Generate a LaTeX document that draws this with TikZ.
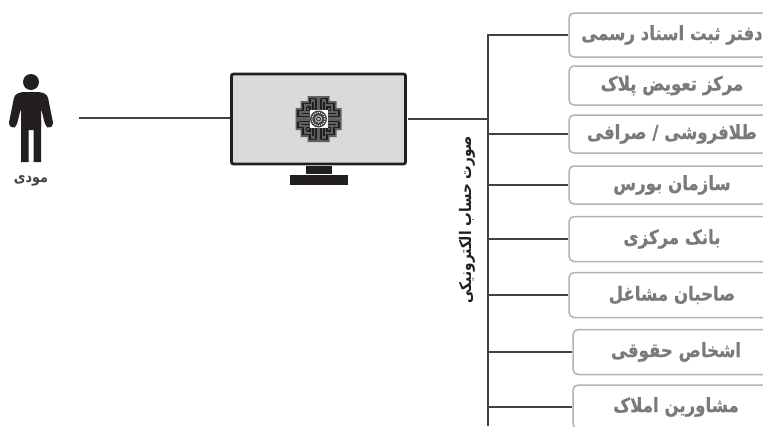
\documentclass[tikz,border=0pt]{standalone}
\usepackage{fontspec}
\newfontfamily\arabicfont[Script=Arabic,FakeStretch=0.85]{DejaVu Sans}
\newfontfamily\arabicheavy[Script=Arabic,FakeStretch=0.85,FakeBold=0.6]{DejaVu Sans Bold}
\TeXXeTstate=1
\definecolor{taxGray}{RGB}{120, 122, 125}
\definecolor{taxEdge}{RGB}{176, 178, 181}
\definecolor{taxScreen}{RGB}{217, 218, 220}
\definecolor{taxInk}{RGB}{35, 31, 32}
\usetikzlibrary{positioning}

\begin{document}
\begin{tikzpicture}[
    x=1pt, y=-1pt,
    officebox/.style={draw=taxEdge, line width=1.5pt, rounded corners=5pt, fill=white, minimum width=206pt,
                   align=center, inner sep=0pt, text=taxGray, font=\arabicheavy\fontsize{19.5}{22}\selectfont},
    wire/.style={line width=1.5pt, taxInk!85},
    standpart/.style={fill=taxInk, inner sep=0pt}
  ]
    \useasboundingbox (0,0) rectangle (763,426);
    \clip (0,0) rectangle (763,426);

    % offices on the right
    \node[officebox, minimum height=44pt] (daftar) at (672,35) {\beginR دفتر ثبت اسناد رسمی\endR};
    \node[officebox, minimum height=39pt] (markaz) at (672,85.5) {\beginR مرکز تعویض پلاک\endR};
    \node[officebox, minimum height=38pt] (tala) at (672,134) {\beginR طلافروشی / صرافی\endR};
    \node[officebox, minimum height=38pt] (bourse) at (672,185) {\beginR سازمان بورس\endR};
    \node[officebox, minimum height=45pt] (bank) at (672,239) {\beginR بانک مرکزی\endR};
    \node[officebox, minimum height=45pt] (mashaghel) at (672,295) {\beginR صاحبان مشاغل\endR};
    \node[officebox, minimum height=45pt] (hoghoghi) at (676,352) {\beginR اشخاص حقوقی\endR};
    \node[officebox, minimum height=44pt] (amlak) at (676,407) {\beginR مشاورین املاک\endR};

    % monitor
    \node[draw=taxInk, line width=2.8pt, rounded corners=2pt, fill=taxScreen, minimum width=174pt, minimum height=90pt,
          inner sep=0pt, outer sep=2pt] (monitor) at (318.5,119) {};
    \node[standpart, minimum width=26pt, minimum height=8pt, below=0pt of monitor] (neck) {};
    \node[standpart, minimum width=58pt, minimum height=10pt, below=0pt of neck] (base) {};

    % logo on the screen
    \begin{scope}[shift={(monitor.center)}]
      \fill[gray!75!black] (-11,-23) -- (11,-23) -- (11,-18) -- (18,-18) -- (18,-11) -- (23,-11) -- (23,11) -- (18,11)
        -- (18,18) -- (11,18) -- (11,23) -- (-11,23) -- (-11,18) -- (-18,18) -- (-18,11) -- (-23,11) -- (-23,-11)
        -- (-18,-11) -- (-18,-18) -- (-11,-18) -- cycle;
      \foreach \turn in {0,90,180,270} {
        \foreach \flip in {1,-1} {
          \draw[rotate=\turn, xscale=\flip, line width=1.5pt, taxInk]
            (-2.5,-20.5) -- (-8.5,-20.5) -- (-8.5,-15.5) -- (-15.5,-15.5) -- (-15.5,-9)
            (-2.5,-20) -- (-2.5,-8)
            (-5.5,-17) -- (-5.5,-8)
            (-12,-12) -- (-8.5,-12) -- (-8.5,-8);
        }
      }
      \fill[white] (-9,-9) rectangle (9,9);
      \fill[taxInk!85] (0,0) circle (8.5);
      \draw[white, line width=1pt, dash pattern=on 1pt off 1.2pt] (0,0) circle (6.5);
      \fill[gray!60] (0,0) circle (3.8);
      \draw[taxInk, line width=.7pt] (0,0) circle (2);
    \end{scope}

    % person
    \node[circle, fill=taxInk, minimum size=16pt, inner sep=0pt] (head) at (31,82) {};
    \fill[taxInk, rounded corners=3pt] (21,92) -- (41,92) -- (47.5,95) -- (53.5,125) -- (49,128.5) -- (45.5,126) -- (41,108)
      -- (41,130) -- (21,130) -- (21,108) -- (16.5,126)
      -- (13,128.5) -- (8.5,125) -- (14.5,95) -- cycle;
    \fill[taxInk] (21,120) -- (41,120) -- (41,162) -- (33.5,162) -- (33.5,127) -- (28.5,127) -- (28.5,162) -- (21,162) -- cycle;
    \node[font=\arabicfont\bfseries\fontsize{15}{17}\selectfont, text=taxInk!85, inner sep=0pt] (payer) at (31,181) {\beginR مودی\endR};

    % label along the trunk
    \node[rotate=90, font=\arabicfont\bfseries\fontsize{16}{18}\selectfont, text=taxInk, inner sep=0pt] (invoice) at (467,220)
      {\beginR صورت حساب الکترونیکی\endR};

    % wires
    \coordinate (trunkend) at (488,426);
    \coordinate (linestart) at (79,118);
    \draw[wire] (linestart) -- (monitor.west |- linestart);
    \draw[wire] (daftar.west) -| (trunkend);
    \draw[wire, line width=2pt] (monitor.east) -- (monitor.east -| trunkend);
    \draw[wire] (tala.west) -- (tala.west -| trunkend);
    \draw[wire] (bourse.west) -- (bourse.west -| trunkend);
    \draw[wire] (bank.west) -- (bank.west -| trunkend);
    \draw[wire] (mashaghel.west) -- (mashaghel.west -| trunkend);
    \draw[wire] (hoghoghi.west) -- (hoghoghi.west -| trunkend);
    \draw[wire] (amlak.west) -- (amlak.west -| trunkend);
  \end{tikzpicture}
\end{document}
